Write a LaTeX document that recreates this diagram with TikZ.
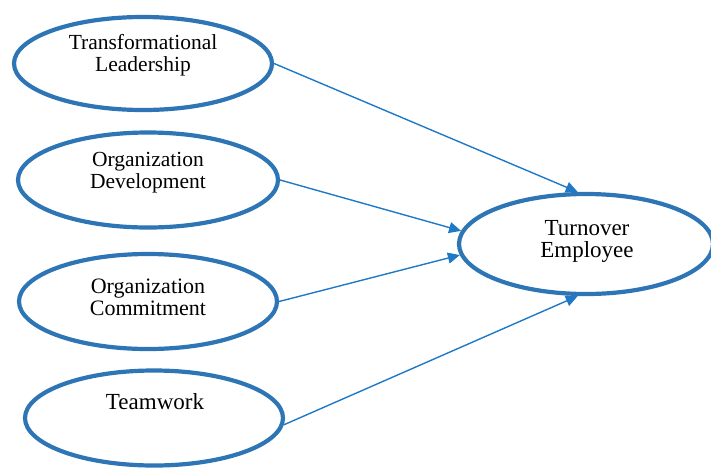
\documentclass[tikz,border=0pt]{standalone}
\usepackage{fontspec}
\setmainfont{Liberation Serif}
\usetikzlibrary{shapes.geometric,arrows.meta}

\definecolor{ovalblue}{RGB}{46,117,182}
\definecolor{linkblue}{RGB}{31,121,198}

\begin{document}
\begin{tikzpicture}[x=1pt, y=-1pt,
  oval/.style = {shape=ellipse, draw=ovalblue, line width=4.2pt,
    inner sep=0pt, minimum width=258pt, minimum height=95pt},
  caption/.style = {align=center, font=\fontsize{21.5}{22}\selectfont},
  link/.style = {draw=linkblue, line width=1.4pt,
    -{Triangle[length=12pt,width=11pt]}}]
  \clip (0,0) rectangle (711,469);
  \useasboundingbox (0,0) rectangle (711,469);

  % predictors on the left
  \node[oval, minimum height=93pt] (lead) at (143,63.5) {};
  \node[caption] at (143,55) {Transformational\\Leadership};
  \node[oval, minimum width=260pt] (dev) at (148,180) {};
  \node[caption] at (148,173) {Organization\\Development};
  \node[oval] (commit) at (148,301.5) {};
  \node[caption, font=\fontsize{22}{22}\selectfont] at (148,297) {Organization\\Commitment};
  \node[oval] (team) at (154,418) {};
  \node[caption, font=\fontsize{23}{22}\selectfont] at (155,402) {Teamwork};

  % outcome
  \node[oval, minimum width=254pt, minimum height=100pt] (turn) at (586,244) {};
  \node[caption, font=\fontsize{23}{22}\selectfont] at (587,241) {Turnover\\Employee};

  \draw[link] (lead.east) -- (turn.99);
  \draw[link] (dev.east) -- (turn.174);
  \draw[link] (commit.east) -- (turn.185);
  \draw[link] (team.-3) -- (turn.261);
\end{tikzpicture}
\end{document}
